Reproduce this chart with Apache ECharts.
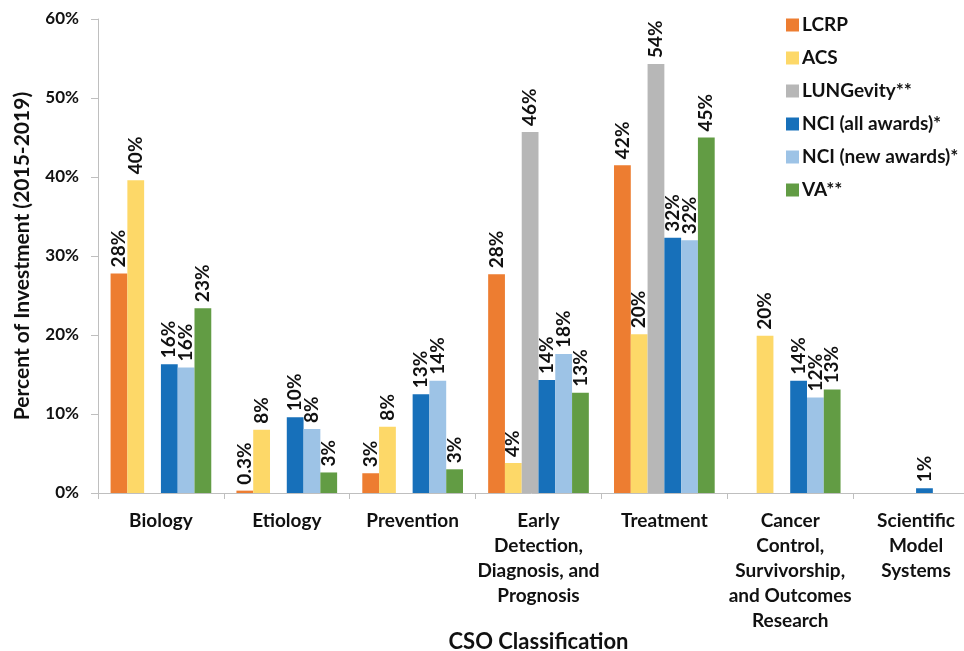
<!DOCTYPE html>
<html>
<head>
<meta charset="utf-8">
<script src="https://cdn.jsdelivr.net/npm/echarts@6/dist/echarts.min.js"></script>
<style>
  html, body { margin: 0; padding: 0; background: #fff; }
  #chart { width: 964px; height: 651px; }
</style>
</head>
<body>
<div id="chart"></div>
<script>
const categories = [
  'Biology',
  'Etiology',
  'Prevention',
  'Early\nDetection,\nDiagnosis, and\nPrognosis',
  'Treatment',
  'Cancer\nControl,\nSurvivorship,\nand Outcomes\nResearch',
  'Scientific\nModel\nSystems'
];

const seriesNames = ['LCRP', 'ACS', 'LUNGevity**', 'NCI (all awards)*', 'NCI (new awards)*', 'VA**'];

// '-' = no bar in that category
const lcrp = [27.8, 0.3, 2.5, 27.7, 41.5, '-', '-'];
const acs = [39.6, 8.0, 8.4, 3.8, 20.1, 19.9, '-'];
const lungevity = ['-', '-', '-', 45.7, 54.3, '-', '-'];
const nciAll = [16.3, 9.6, 12.5, 14.3, 32.3, 14.2, 0.6];
const nciNew = [15.9, 8.1, 14.2, 17.6, 32.0, 12.1, '-'];
const va = [23.4, 2.6, 3.0, 12.7, 45.0, 13.1, '-'];

const yTicks = { min: 0, max: 60, interval: 10 };

const colors = ['#ED7D31', '#FDD868', '#B7B7B7', '#1770BA', '#9DC3E6', '#629C44'];
const font = 'Lato, "Liberation Sans", sans-serif';

const chart = echarts.init(document.getElementById('chart'));

const makeSeries = (name, data, color) => ({
  name,
  type: 'bar',
  data,
  barGap: '0%',
  barCategoryGap: '20%',
  itemStyle: { color },
  label: {
    show: true,
    position: 'top',
    rotate: 90,
    align: 'left',
    verticalAlign: 'middle',
    distance: 6,
    color: '#111',
    fontFamily: font,
    fontWeight: 'bold',
    fontSize: 19,
    formatter: (p) => (p.value < 0.5 ? p.value.toFixed(1) : Math.round(p.value)) + '%'
  }
});

chart.setOption({
  animation: false,
  textStyle: { fontFamily: font },
  grid: { left: 98, top: 19, right: -15, bottom: 158, outerBoundsMode: 'none' },
  legend: {
    orient: 'vertical',
    left: 781,
    top: 10,
    itemWidth: 13,
    itemHeight: 13,
    itemGap: 13,
    icon: 'rect',
    textStyle: { fontFamily: font, fontWeight: 'bold', fontSize: 19, lineHeight: 20, color: '#111', padding: [0, 0, 0, -2] },
    data: seriesNames
  },
  xAxis: {
    type: 'category',
    data: categories,
    name: 'CSO Classification',
    nameLocation: 'middle',
    nameGap: 138,
    nameMoveOverlap: false,
    nameTextStyle: { fontFamily: font, fontWeight: 'bold', fontSize: 22, color: '#111' },
    axisLine: { lineStyle: { color: '#BFBFBF' } },
    axisTick: { show: true, length: 6, lineStyle: { color: '#BFBFBF' } },
    axisLabel: {
      interval: 0,
      margin: 15,
      color: '#111',
      fontFamily: font,
      fontWeight: 'bold',
      fontSize: 19,
      lineHeight: 25
    }
  },
  yAxis: {
    type: 'value',
    min: yTicks.min,
    max: yTicks.max,
    interval: yTicks.interval,
    name: 'Percent of Investment (2015-2019)',
    nameLocation: 'middle',
    nameGap: 65,
    nameMoveOverlap: false,
    nameTextStyle: { fontFamily: font, fontWeight: 'bold', fontSize: 21, color: '#111' },
    axisLine: { show: true, lineStyle: { color: '#BFBFBF' } },
    axisTick: { show: true, length: 7, lineStyle: { color: '#BFBFBF' } },
    splitLine: { show: false },
    axisLabel: {
      formatter: '{value}%',
      margin: 19,
      color: '#111',
      fontFamily: font,
      fontWeight: 'bold',
      fontSize: 17
    }
  },
  series: [
    makeSeries(seriesNames[0], lcrp, colors[0]),
    makeSeries(seriesNames[1], acs, colors[1]),
    makeSeries(seriesNames[2], lungevity, colors[2]),
    makeSeries(seriesNames[3], nciAll, colors[3]),
    makeSeries(seriesNames[4], nciNew, colors[4]),
    makeSeries(seriesNames[5], va, colors[5])
  ]
});
</script>
</body>
</html>
